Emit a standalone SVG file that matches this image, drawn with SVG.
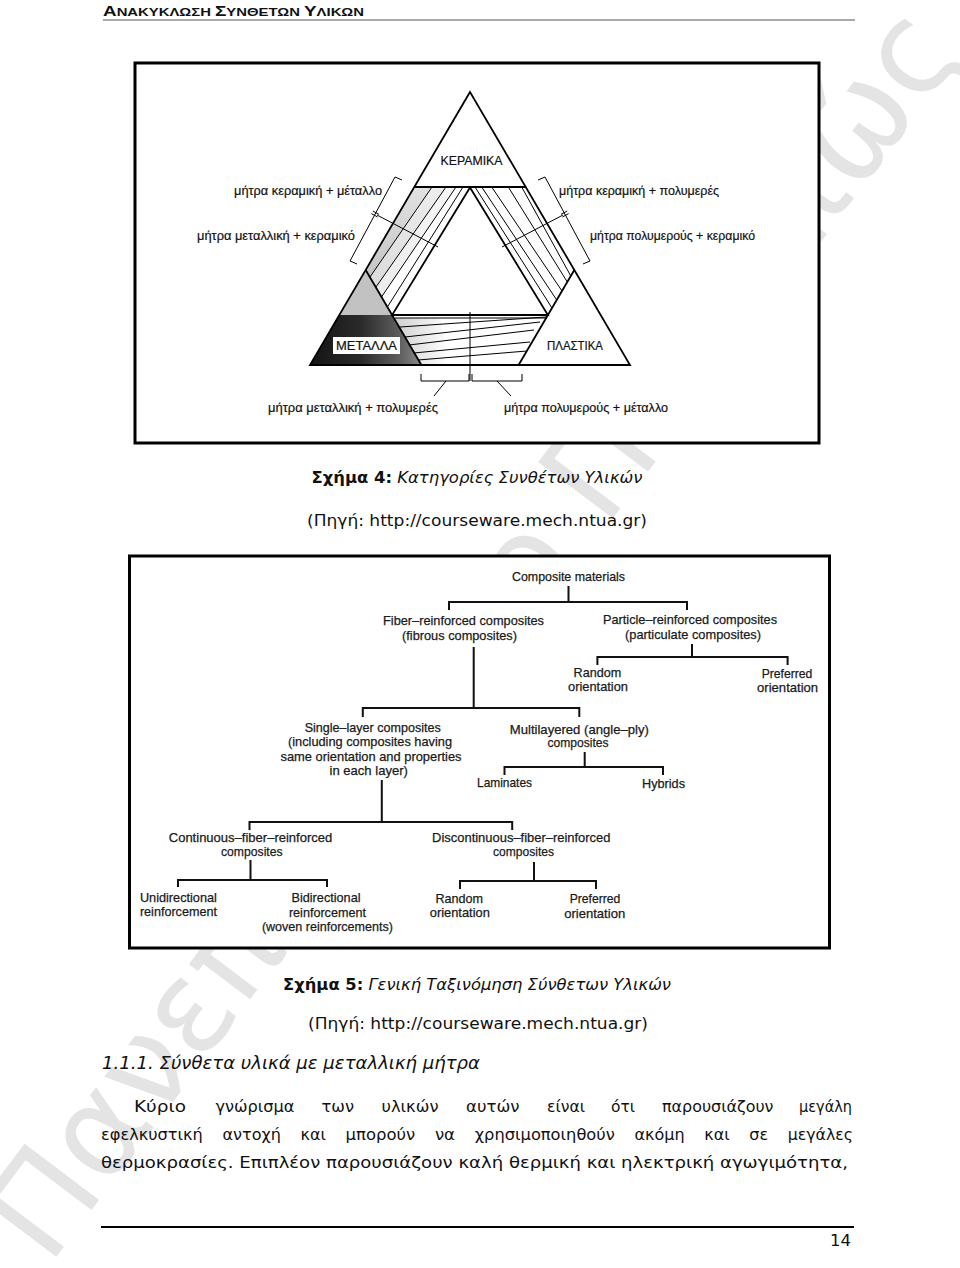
<svg xmlns="http://www.w3.org/2000/svg" width="960" height="1268" viewBox="0 0 960 1268">
<style>
.wm{font-family:"DejaVu Sans",sans-serif;font-size:128px;fill:#e4e4e4}
.hdr{font-family:"Liberation Sans",Arial,sans-serif;font-weight:bold;fill:#111}
.fig{fill:#fff;stroke:#000;stroke-width:3}
.tl{font-family:"Liberation Sans",Arial,sans-serif;font-size:13px;fill:#111;stroke:#111;stroke-width:0.2}
.tlm{font-family:"Liberation Sans",Arial,sans-serif;font-size:13px;fill:#111;text-anchor:middle;stroke:#111;stroke-width:0.2}
.edge{fill:none;stroke:#000;stroke-width:1.8;stroke-linejoin:miter}
.thin{fill:none;stroke:#000;stroke-width:1}
.tree{font-family:"Liberation Sans",Arial,sans-serif;font-size:13px;fill:#1a1a1a;text-anchor:middle;stroke:#1a1a1a;stroke-width:0.25}
.conn{fill:none;stroke:#111;stroke-width:2}
.body{font-family:"DejaVu Sans",Verdana,sans-serif;font-size:16.5px;fill:#111}
</style>
<defs>
<linearGradient id="dark" x1="310" y1="0" x2="422" y2="0" gradientUnits="userSpaceOnUse">
<stop offset="0" stop-color="#141414"/><stop offset="0.45" stop-color="#2a2a2a"/><stop offset="0.8" stop-color="#5e5e5e"/><stop offset="1" stop-color="#8a8a8a"/>
</linearGradient>
<linearGradient id="bandg" x1="0" y1="187" x2="0" y2="300" gradientUnits="userSpaceOnUse">
<stop offset="0" stop-color="#e2e2e2"/><stop offset="1" stop-color="#bdbdbd"/>
</linearGradient>
<linearGradient id="botg" x1="395" y1="0" x2="450" y2="0" gradientUnits="userSpaceOnUse">
<stop offset="0" stop-color="#c4c4c4"/><stop offset="1" stop-color="#ffffff"/>
</linearGradient>
</defs>
<rect width="960" height="1268" fill="#fff"/>
<text class="wm" transform="translate(48.7,1266.7) rotate(-53)">Πανεπιστήμιο Πειραιώς</text>

<g id="header">
<text class="hdr" x="103" y="16" textLength="261" lengthAdjust="spacingAndGlyphs"><tspan font-size="14">Α</tspan><tspan font-size="11">ΝΑΚΥΚΛΩΣΗ </tspan><tspan font-size="14">Σ</tspan><tspan font-size="11">ΥΝΘΕΤΩΝ </tspan><tspan font-size="14">Υ</tspan><tspan font-size="11">ΛΙΚΩΝ</tspan></text>
<line x1="103" y1="20" x2="855" y2="20" stroke="#555" stroke-width="1"/>
</g>

<g id="figure4">
<rect class="fig" x="135" y="63" width="684" height="380"/>
<g id="shading">
<polygon points="414.3,187 432,187 370,277 365.7,270" fill="url(#bandg)"/>
<polygon points="432,187 446,187 376,287 370,277" fill="url(#bandg)" opacity="0.6"/>
<polygon points="446,187 456,187 381.5,297 376,287" fill="url(#bandg)" opacity="0.3"/>
<polygon points="365.7,270 339.3,315 392.1,315" fill="#c2c2c2"/>
<polygon points="339.3,315 310,365 421.4,365 392.1,315" fill="url(#dark)"/>
<polygon points="394,318 421.4,365 450,365 440,318" fill="url(#botg)" opacity="0.8"/>
</g>
<g id="triangle-ceramics">
<polygon class="edge" points="470,92 310,365 630,365"/>
<line class="edge" x1="414.3" y1="187" x2="525.7" y2="187"/>
<text class="tlm" x="471.5" y="165" textLength="62" lengthAdjust="spacingAndGlyphs">ΚΕΡΑΜΙΚΑ</text>
</g>
<g id="triangle-metals">
<polyline class="edge" points="365.7,270 421.4,365"/>
<rect x="333" y="337" width="67" height="17" fill="#fff"/>
<text class="tlm" x="366.5" y="350" textLength="61" lengthAdjust="spacingAndGlyphs">ΜΕΤΑΛΛΑ</text>
</g>
<g id="triangle-plastics">
<polyline class="edge" points="574.3,270 518.6,365"/>
<text class="tlm" x="575" y="350" textLength="56" lengthAdjust="spacingAndGlyphs">ΠΛΑΣΤΙΚΑ</text>
</g>
<g id="inner">
<polygon class="edge" points="470,187.5 392.1,315 547.9,315"/>
</g>
<g id="band-lines" class="thin">
<line x1="432" y1="187" x2="370" y2="277"/>
<line x1="446" y1="187" x2="376" y2="287"/>
<line x1="456" y1="187" x2="381.5" y2="297"/>
<line x1="463" y1="187" x2="387.4" y2="307"/>
<line x1="475" y1="187" x2="552" y2="308"/>
<line x1="481.7" y1="187" x2="556.7" y2="300"/>
<line x1="491.7" y1="187" x2="562" y2="291"/>
<line x1="508.3" y1="187" x2="567.3" y2="282"/>
<line x1="521.7" y1="187" x2="570.8" y2="276"/>
<line x1="395" y1="318" x2="546.5" y2="318"/>
<line x1="400" y1="327" x2="546" y2="317"/>
<line x1="405" y1="337" x2="540" y2="322"/>
<line x1="409" y1="345" x2="534" y2="330"/>
<line x1="413.5" y1="353" x2="530" y2="342"/>
<line x1="418" y1="360" x2="527" y2="351"/>
<line x1="470" y1="312" x2="470" y2="381"/>
</g>
<g id="brackets" class="thin" stroke-width="1.3">
<path d="M402,180 L395,177 L350,261 L357,264"/>
<path d="M372.8,211 L379,214.4 M371.4,213.6 L377.6,217"/>
<line x1="377" y1="215" x2="438" y2="247"/>
<path d="M538,180 L545,177 L590,261 L583,264"/>
<path d="M561,214.4 L567.2,211 M562.4,217 L568.6,213.6"/>
<line x1="563" y1="215" x2="502" y2="247"/>
<path d="M421,374 L421,381 L469,381 L469,374 M472,374 L472,381 L522,381 L522,374"/>
<line x1="446" y1="381" x2="434" y2="396"/>
<line x1="497" y1="381" x2="511" y2="396"/>
</g>
<g id="labels">
<text class="tl" x="234" y="195" textLength="148" lengthAdjust="spacingAndGlyphs">μήτρα κεραμική + μέταλλο</text>
<text class="tl" x="559" y="195" textLength="160" lengthAdjust="spacingAndGlyphs">μήτρα κεραμική + πολυμερές</text>
<text class="tl" x="197" y="240" textLength="158" lengthAdjust="spacingAndGlyphs">μήτρα μεταλλική + κεραμικό</text>
<text class="tl" x="590" y="240" textLength="165" lengthAdjust="spacingAndGlyphs">μήτρα πολυμερούς + κεραμικό</text>
<text class="tl" x="268" y="412" textLength="170" lengthAdjust="spacingAndGlyphs">μήτρα μεταλλική + πολυμερές</text>
<text class="tl" x="504" y="412" textLength="164" lengthAdjust="spacingAndGlyphs">μήτρα πολυμερούς + μέταλλο</text>
</g>
</g>

<g id="caption4" class="body">
<text x="477" y="483" text-anchor="middle" textLength="331" lengthAdjust="spacingAndGlyphs"><tspan font-weight="bold">Σχήμα 4:</tspan><tspan font-style="italic"> Κατηγορίες Συνθέτων Υλικών</tspan></text>
<text x="477" y="526" text-anchor="middle" textLength="340" lengthAdjust="spacingAndGlyphs">(Πηγή: http://courseware.mech.ntua.gr)</text>
</g>

<g id="figure5">
<rect class="fig" x="129.5" y="556" width="700" height="392"/>
<g id="connectors">
<path class="conn" d="M568.5,586 V602 M449,610 V602 H687 V610"/>
<path class="conn" d="M473.7,647 V708 M362.8,717 V708 H579.3 V717"/>
<path class="conn" d="M692,644 V657 M597.4,665 V657 H787.6 V665"/>
<path class="conn" d="M584.7,752 V767 M504.5,775 V767 H663 V775"/>
<path class="conn" d="M381.8,780 V822 M249.5,830 V822 H512.2 V830"/>
<path class="conn" d="M250.5,860 V880 M178,887 V880 H327 V887"/>
<path class="conn" d="M534,862 V881 M460,889 V881 H596 V889"/>
</g>
<g id="n-composite"><text class="tree" x="568.5" y="581" textLength="113" lengthAdjust="spacingAndGlyphs">Composite materials</text></g>
<g id="n-fiber"><text class="tree" x="463.5" y="625" textLength="161" lengthAdjust="spacingAndGlyphs">Fiber–reinforced composites</text><text class="tree" x="459.5" y="640" textLength="115" lengthAdjust="spacingAndGlyphs">(fibrous composites)</text></g>
<g id="n-particle"><text class="tree" x="690" y="624" textLength="174" lengthAdjust="spacingAndGlyphs">Particle–reinforced composites</text><text class="tree" x="693" y="638.5" textLength="136" lengthAdjust="spacingAndGlyphs">(particulate composites)</text></g>
<g id="n-prandom"><text class="tree" x="597.4" y="677" textLength="47.6" lengthAdjust="spacingAndGlyphs">Random</text><text class="tree" x="598" y="691" textLength="60" lengthAdjust="spacingAndGlyphs">orientation</text></g>
<g id="n-ppreferred"><text class="tree" x="787" y="677.5" textLength="50.7" lengthAdjust="spacingAndGlyphs">Preferred</text><text class="tree" x="787.6" y="692" textLength="61" lengthAdjust="spacingAndGlyphs">orientation</text></g>
<g id="n-single"><text class="tree" x="372.7" y="732" textLength="136" lengthAdjust="spacingAndGlyphs">Single–layer composites</text><text class="tree" x="370" y="746" textLength="164" lengthAdjust="spacingAndGlyphs">(including composites having</text><text class="tree" x="371" y="761" textLength="181" lengthAdjust="spacingAndGlyphs">same orientation and properties</text><text class="tree" x="368.7" y="774.5" textLength="78.4" lengthAdjust="spacingAndGlyphs">in each layer)</text></g>
<g id="n-multi"><text class="tree" x="579.3" y="733.5" textLength="139" lengthAdjust="spacingAndGlyphs">Multilayered (angle–ply)</text><text class="tree" x="578" y="747" textLength="61" lengthAdjust="spacingAndGlyphs">composites</text></g>
<g id="n-laminates"><text class="tree" x="504.5" y="786.5" textLength="55" lengthAdjust="spacingAndGlyphs">Laminates</text></g>
<g id="n-hybrids"><text class="tree" x="663.5" y="787.5" textLength="43" lengthAdjust="spacingAndGlyphs">Hybrids</text></g>
<g id="n-continuous"><text class="tree" x="250.5" y="841.5" textLength="163.5" lengthAdjust="spacingAndGlyphs">Continuous–fiber–reinforced</text><text class="tree" x="251.8" y="856" textLength="61.6" lengthAdjust="spacingAndGlyphs">composites</text></g>
<g id="n-discontinuous"><text class="tree" x="521.3" y="841.5" textLength="178.4" lengthAdjust="spacingAndGlyphs">Discontinuous–fiber–reinforced</text><text class="tree" x="523.5" y="856" textLength="61" lengthAdjust="spacingAndGlyphs">composites</text></g>
<g id="n-uni"><text class="tree" x="178.4" y="902" textLength="77" lengthAdjust="spacingAndGlyphs">Unidirectional</text><text class="tree" x="178.4" y="916" textLength="77" lengthAdjust="spacingAndGlyphs">reinforcement</text></g>
<g id="n-bi"><text class="tree" x="326" y="902" textLength="69" lengthAdjust="spacingAndGlyphs">Bidirectional</text><text class="tree" x="327.4" y="916.5" textLength="77" lengthAdjust="spacingAndGlyphs">reinforcement</text><text class="tree" x="327.4" y="931" textLength="131" lengthAdjust="spacingAndGlyphs">(woven reinforcements)</text></g>
<g id="n-drandom"><text class="tree" x="459.2" y="902.5" textLength="47.6" lengthAdjust="spacingAndGlyphs">Random</text><text class="tree" x="459.8" y="917" textLength="60" lengthAdjust="spacingAndGlyphs">orientation</text></g>
<g id="n-dpreferred"><text class="tree" x="595" y="902.5" textLength="50.7" lengthAdjust="spacingAndGlyphs">Preferred</text><text class="tree" x="594.7" y="917.5" textLength="61" lengthAdjust="spacingAndGlyphs">orientation</text></g>
</g>

<g id="caption5" class="body">
<text x="477" y="990" text-anchor="middle" textLength="388" lengthAdjust="spacingAndGlyphs"><tspan font-weight="bold">Σχήμα 5:</tspan><tspan font-style="italic"> Γενική Ταξινόμηση Σύνθετων Υλικών</tspan></text>
<text x="478" y="1029" text-anchor="middle" textLength="340" lengthAdjust="spacingAndGlyphs">(Πηγή: http://courseware.mech.ntua.gr)</text>
</g>

<g id="bodytext" class="body">
<text x="102" y="1069" font-style="italic" font-size="17.5" textLength="378" lengthAdjust="spacingAndGlyphs">1.1.1. Σύνθετα υλικά με μεταλλική μήτρα</text>
<text x="134" y="1112" textLength="52" lengthAdjust="spacingAndGlyphs">Κύριο</text>
<text x="215.5" y="1112" textLength="79" lengthAdjust="spacingAndGlyphs">γνώρισμα</text>
<text x="321.5" y="1112" textLength="32.5" lengthAdjust="spacingAndGlyphs">των</text>
<text x="381.5" y="1112" textLength="57" lengthAdjust="spacingAndGlyphs">υλικών</text>
<text x="466" y="1112" textLength="53.5" lengthAdjust="spacingAndGlyphs">αυτών</text>
<text x="547" y="1112" textLength="38" lengthAdjust="spacingAndGlyphs">είναι</text>
<text x="611" y="1112" textLength="24" lengthAdjust="spacingAndGlyphs">ότι</text>
<text x="662" y="1112" textLength="111.5" lengthAdjust="spacingAndGlyphs">παρουσιάζουν</text>
<text x="799" y="1112" textLength="53" lengthAdjust="spacingAndGlyphs">μεγάλη</text>
<text x="101" y="1140" textLength="101.8" lengthAdjust="spacingAndGlyphs">εφελκυστική</text>
<text x="222.5" y="1140" textLength="58.4" lengthAdjust="spacingAndGlyphs">αντοχή</text>
<text x="300.6" y="1140" textLength="25.3" lengthAdjust="spacingAndGlyphs">και</text>
<text x="345.6" y="1140" textLength="69.6" lengthAdjust="spacingAndGlyphs">μπορούν</text>
<text x="434.9" y="1140" textLength="20.1" lengthAdjust="spacingAndGlyphs">να</text>
<text x="474.7" y="1140" textLength="140.1" lengthAdjust="spacingAndGlyphs">χρησιμοποιηθούν</text>
<text x="634.5" y="1140" textLength="50.1" lengthAdjust="spacingAndGlyphs">ακόμη</text>
<text x="704.3" y="1140" textLength="25.3" lengthAdjust="spacingAndGlyphs">και</text>
<text x="749.3" y="1140" textLength="18.8" lengthAdjust="spacingAndGlyphs">σε</text>
<text x="787.8" y="1140" textLength="65.2" lengthAdjust="spacingAndGlyphs">μεγάλες</text>
<text x="101" y="1168" textLength="747" lengthAdjust="spacingAndGlyphs">θερμοκρασίες. Επιπλέον παρουσιάζουν καλή θερμική και ηλεκτρική αγωγιμότητα,</text>
</g>

<g id="footer">
<line x1="101" y1="1227" x2="854" y2="1227" stroke="#000" stroke-width="2"/>
<text class="body" x="851" y="1246" text-anchor="end">14</text>
</g>
</svg>
